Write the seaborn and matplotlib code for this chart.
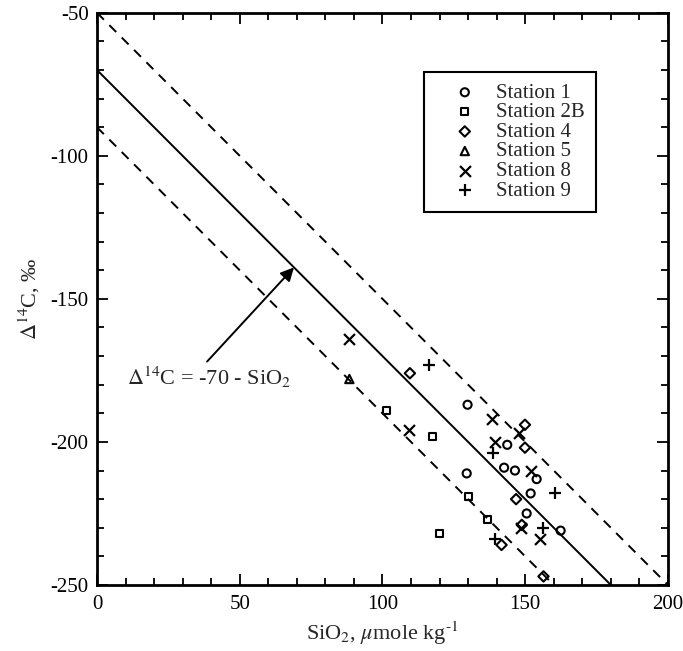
import numpy as np
import pandas as pd
import matplotlib
matplotlib.use("Agg")
import matplotlib.pyplot as plt
from matplotlib.ticker import MultipleLocator
import seaborn as sns

st1_si = [129.8, 129.5, 143.7, 142.6, 146.4, 154.0, 151.9, 150.5, 162.4]
st1_c14 = [-187, -211, -201, -209, -210, -213, -218, -225, -231]
st2b_si = [101.5, 117.6, 130.0, 136.7, 120.1]
st2b_c14 = [-189, -198, -219, -227, -232]
st4_si = [109.6, 149.9, 149.9, 146.8, 148.8, 141.7, 156.4]
st4_c14 = [-176, -194, -202, -220, -229, -236, -247]
st5_si = [88.4]
st5_c14 = [-178]
st8_si = [88.4, 109.4, 138.2, 147.9, 139.4, 151.9, 148.4, 155.2]
st8_c14 = [-164, -196, -192, -197, -200, -210, -230, -234]
st9_si = [116.4, 138.8, 160.4, 156.4, 139.4]
st9_c14 = [-173, -204, -218, -230, -234]

stations = ["Station 1", "Station 2B", "Station 4", "Station 5", "Station 8", "Station 9"]
markers = ["o", "s", "D", "^", "x", "+"]
sizes = [34, 26, 28, 36, 62, 78]

# regression line and envelope (end points)
fit_x, fit_y = [0, 180], [-70, -250]
upper_x, upper_y = [0, 200], [-50, -250]
lower_x, lower_y = [0, 160], [-90, -250]

frames = []
for name, xs, ys in zip(stations,
                        [st1_si, st2b_si, st4_si, st5_si, st8_si, st9_si],
                        [st1_c14, st2b_c14, st4_c14, st5_c14, st8_c14, st9_c14]):
    frames.append(pd.DataFrame({"sio2": xs, "c14": ys, "station": name}))
df = pd.concat(frames, ignore_index=True)

sns.set_style("ticks")
plt.rcParams["font.family"] = ["Liberation Serif", "DejaVu Serif"]
plt.rcParams["mathtext.fontset"] = "stix"
plt.rcParams["axes.unicode_minus"] = False

fig = plt.figure(figsize=(6.83, 6.51), dpi=100)
ax = fig.add_axes([0.142, 0.1014, 0.836, 0.879])

sns.lineplot(x=fit_x, y=fit_y, color="black", lw=1.4, ax=ax)
sns.lineplot(x=upper_x, y=upper_y, color="black", lw=1.4, ax=ax, linestyle=(0, (5, 4)))
sns.lineplot(x=lower_x, y=lower_y, color="black", lw=1.4, ax=ax, linestyle=(0, (5, 4)))

for name, m, s in zip(stations, markers, sizes):
    sub = df[df["station"] == name]
    if m in ("x", "+"):
        sns.scatterplot(data=sub, x="sio2", y="c14", marker=m, s=s, color="black",
                        linewidth=1.6, label=name, ax=ax, zorder=3)
    else:
        sns.scatterplot(data=sub, x="sio2", y="c14", marker=m, s=s, color="black",
                        facecolor="none", edgecolor="black", linewidth=1.5,
                        label=name, ax=ax, zorder=3)

ax.annotate(r"$\Delta^{14}$C = -70 - SiO$_2$", xy=(69, -139), xytext=(10.5, -177.5),
            fontsize=16, va="center", ha="left",
            arrowprops=dict(arrowstyle="-|>", color="black", lw=1.4,
                            mutation_scale=20, shrinkA=0, shrinkB=0,
                            relpos=(0.47, 1.0)))

ax.set_xlim(0, 200)
ax.set_ylim(-250, -50)
ax.xaxis.set_major_locator(MultipleLocator(50))
ax.xaxis.set_minor_locator(MultipleLocator(10))
ax.yaxis.set_major_locator(MultipleLocator(50))
ax.yaxis.set_minor_locator(MultipleLocator(10))
ax.tick_params(which="both", direction="in", top=True, right=True, width=1.3,
               labelsize=15, colors="black")
ax.tick_params(axis="x", which="major", length=8, pad=7)
ax.tick_params(axis="y", which="major", length=8, pad=6)
ax.tick_params(which="minor", length=5)
for sp in ax.spines.values():
    sp.set_linewidth(2)
    sp.set_color("black")

ax.set_xlabel(r"SiO$_2$, $\mu$mole kg$^{\text{-1}}$", fontsize=16, labelpad=4)
ax.set_ylabel(r"$\Delta^{14}$C, ‰", fontsize=16, labelpad=6)

leg = ax.legend(loc="upper left", bbox_to_anchor=(0.573, 0.897), frameon=True,
                fancybox=False, fontsize=15, labelspacing=0.0, handletextpad=0.1,
                borderpad=0.55, handlelength=2.8, borderaxespad=0)
leg.get_frame().set_edgecolor("black")
leg.get_frame().set_linewidth(1.5)
leg.get_frame().set_alpha(1)

fig.savefig("out.png", dpi=100)
